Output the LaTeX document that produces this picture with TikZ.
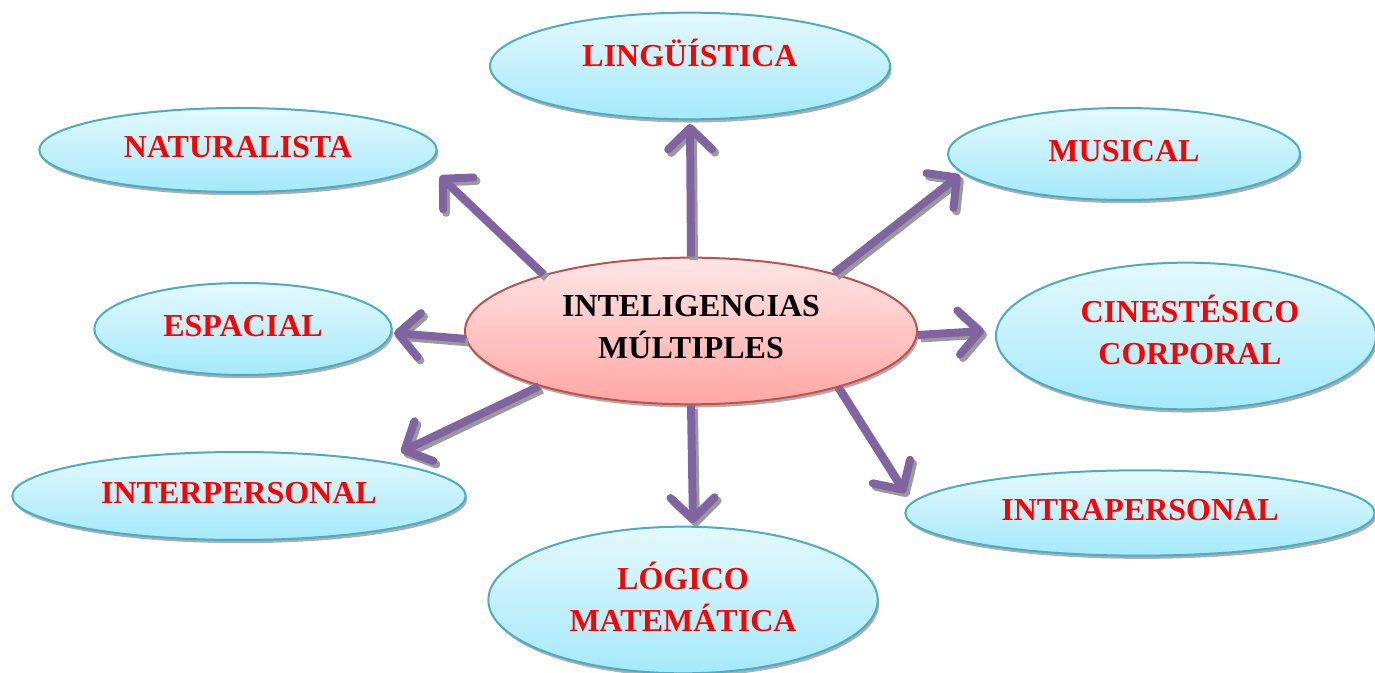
\documentclass[tikz,border=0pt]{standalone}
\usepackage{fontspec}
\setmainfont{Liberation Serif}
\usepackage{tikz}
\usetikzlibrary{shapes.geometric,shadows,arrows.meta}

\definecolor{skyT}{HTML}{E4F9FE}
\definecolor{skyB}{HTML}{A4E9FB}
\definecolor{skyLine}{HTML}{4AACC5}
\definecolor{roseT}{HTML}{FFE6E6}
\definecolor{roseB}{HTML}{FFA7A4}
\definecolor{roseLine}{HTML}{C0504D}
\definecolor{arrPurple}{HTML}{8064A2}
\definecolor{arrShade}{HTML}{9A9A9A}

\begin{document}
\begin{tikzpicture}[x=0.75pt,y=-0.75pt,
	caption/.style={inner sep=0pt, text=red, font=\fontsize{24}{31.5}\selectfont\bfseries, align=center},
	bubble/.style={ellipse, draw=skyLine, line width=1.5pt, top color=skyT, bottom color=skyB,
		drop shadow={shadow xshift=1.2pt, shadow yshift=-2.4pt, fill=black!45, opacity=.7}, caption},
	oneline/.style={text height=16pt, text depth=4.5pt},
	hub/.style={bubble, draw=roseLine, top color=roseT, bottom color=roseB},
	arr/.style={draw=arrPurple, line width=6pt, -{Straight Barb[round, length=16pt, width=33pt]}},
	arrshadow/.style={draw=arrShade, line width=6pt, -{Straight Barb[round, length=16pt, width=33pt]},
		transform canvas={shift={(2.2pt,-2.6pt)}}}]
	\useasboundingbox (0,0) rectangle (1375,673); 

	\node[bubble, oneline, text depth=15pt, minimum width=300pt, minimum height=80pt] (ling) at (690,66) {LINGÜÍSTICA}; 
	\node[bubble, oneline, minimum width=298pt, minimum height=63pt] (nat) at (238,150) {NATURALISTA}; 
	\node[bubble, oneline, minimum width=264pt, minimum height=69pt] (mus) at (1124,154) {MUSICAL}; 
	\node[bubble, oneline, minimum width=223pt, minimum height=69pt] (esp) at (243,329) {ESPACIAL}; 
	\node[hub, minimum width=339pt, minimum height=110pt,
		label={[name=cTxt, caption, text=black, yshift=3pt]center:{INTELIGENCIAS\\MÚLTIPLES}}] (c) at (691,331) {}; 
	\node[bubble, minimum width=285pt, minimum height=110pt,
		label={[name=cinTxt, caption, xshift=3pt, yshift=4.5pt]center:{CINESTÉSICO\\CORPORAL}}] (cin) at (1186,336) {}; 
	\node[bubble, oneline, minimum width=340pt, minimum height=66pt] (inter) at (239,496) {INTERPERSONAL}; 
	\node[bubble, minimum width=292pt, minimum height=110pt,
		label={[name=logTxt, caption, yshift=2.2pt]center:{LÓGICO\\MATEMÁTICA}}] (log) at (683,600) {}; 
	\node[bubble, oneline, minimum width=352pt, minimum height=64pt] (intra) at (1140,513) {INTRAPERSONAL}; 

	% arrow tips
	\coordinate (tLing) at (690,124); 
	\coordinate (tNat) at (440,176); 
	\coordinate (tMus) at (960,175); 
	\coordinate (tEsp) at (394,333); 
	\coordinate (tCin) at (984,331); 
	\coordinate (tInter) at (401,452); 
	\coordinate (tLog) at (693,523); 
	\coordinate (tIntra) at (905,493); 

	% shadows first, then the arrows
	\foreach \s/\t in {north/tLing, 159/tNat, 22/tMus, 182/tEsp, -1/tCin, 200/tInter, south/tLog, -21/tIntra}
		\draw[arrshadow] (c.\s) -- (\t); 
	\foreach \s/\t in {north/tLing, 159/tNat, 22/tMus, 182/tEsp, -1/tCin, 200/tInter, south/tLog, -21/tIntra}
		\draw[arr] (c.\s) -- (\t); 
\end{tikzpicture}
\end{document}
